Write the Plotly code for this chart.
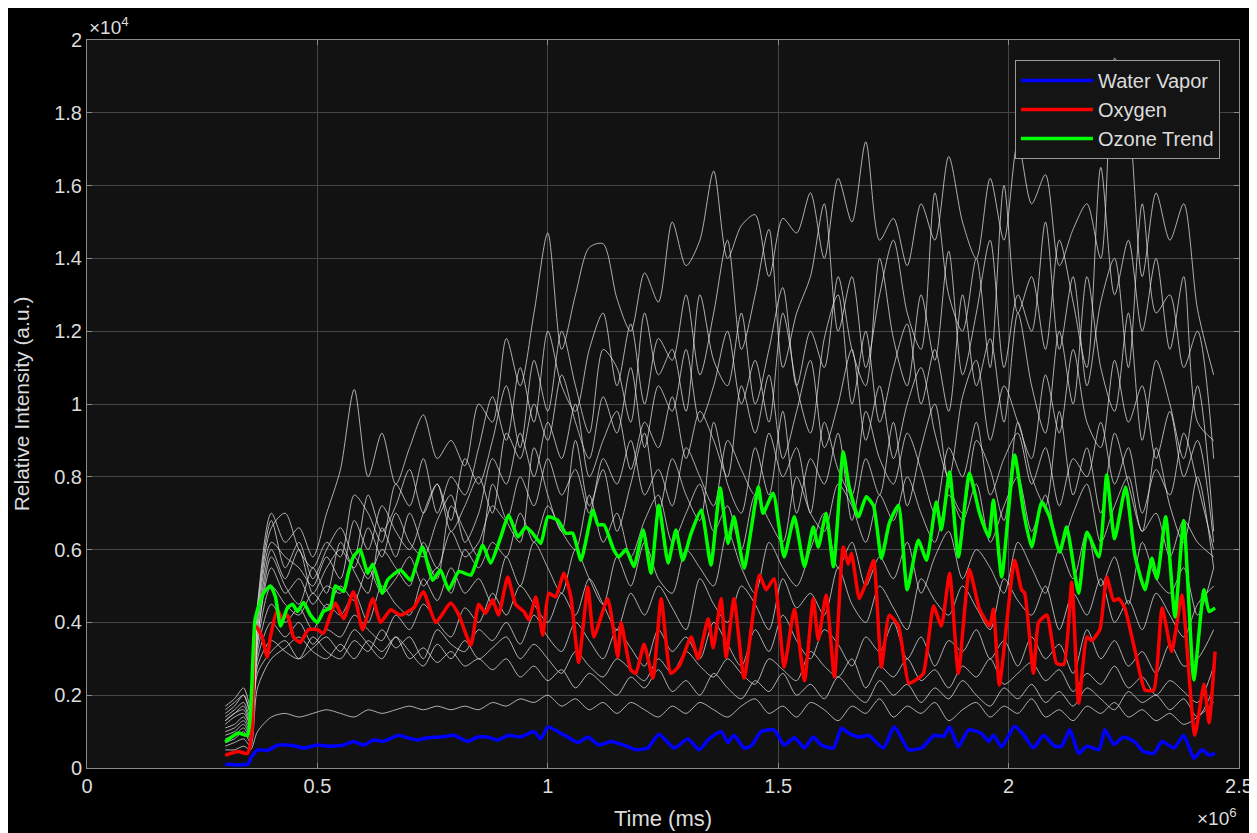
import plotly.graph_objects as go

X_SCALE = 1e6   # time axis shown as x10^6
Y_SCALE = 1e4   # intensity axis shown as x10^4

# ---------------- colored series (time in 1e6 ms, intensity in 1e4 a.u.) ----------------
VAPOR_T = [0.300,0.348,0.357,0.370,0.391,0.415,0.446,0.470,0.500,0.528,0.557,0.578,0.600,0.622,0.643,0.676,0.696,0.717,0.739,0.767,0.796,0.826,0.848,0.870,0.891,0.915,0.941,0.970,0.985,1.000,1.022,1.043,1.065,1.087,1.111,1.137,1.165,1.191,1.217,1.241,1.274,1.304,1.328,1.350,1.376,1.391,1.404,1.426,1.441,1.463,1.491,1.513,1.535,1.557,1.576,1.593,1.620,1.637,1.654,1.676,1.696,1.728,1.752,1.783,1.811,1.839,1.859,1.872,1.891,1.913,1.941,1.957,1.967,1.985,2.013,2.033,2.054,2.076,2.100,2.115,2.133,2.152,2.170,2.196,2.209,2.228,2.250,2.272,2.293,2.315,2.333,2.359,2.380,2.402,2.420,2.435,2.448]
VAPOR_I = [0.010,0.010,0.030,0.050,0.048,0.063,0.062,0.055,0.063,0.060,0.063,0.073,0.063,0.077,0.073,0.090,0.083,0.077,0.083,0.085,0.090,0.073,0.085,0.085,0.077,0.090,0.085,0.100,0.080,0.113,0.100,0.085,0.070,0.085,0.063,0.073,0.063,0.050,0.055,0.093,0.055,0.080,0.050,0.080,0.100,0.070,0.090,0.055,0.060,0.100,0.105,0.063,0.083,0.055,0.085,0.063,0.055,0.109,0.095,0.085,0.090,0.055,0.113,0.050,0.055,0.090,0.087,0.113,0.058,0.105,0.095,0.073,0.090,0.058,0.115,0.090,0.055,0.090,0.060,0.060,0.105,0.040,0.060,0.050,0.105,0.065,0.085,0.073,0.045,0.040,0.073,0.055,0.090,0.027,0.050,0.035,0.040]

OXY_T = [0.300,0.328,0.348,0.358,0.366,0.380,0.391,0.398,0.413,0.424,0.435,0.448,0.463,0.480,0.500,0.513,0.528,0.539,0.557,0.578,0.598,0.620,0.637,0.659,0.680,0.709,0.730,0.757,0.789,0.807,0.833,0.850,0.865,0.880,0.893,0.913,0.930,0.948,0.959,0.974,0.989,1.002,1.017,1.035,1.050,1.067,1.087,1.100,1.130,1.152,1.159,1.180,1.191,1.209,1.228,1.246,1.267,1.285,1.311,1.326,1.348,1.359,1.376,1.387,1.404,1.426,1.459,1.474,1.491,1.513,1.535,1.557,1.576,1.587,1.604,1.622,1.641,1.652,1.659,1.676,1.691,1.707,1.724,1.741,1.761,1.783,1.796,1.815,1.837,1.854,1.872,1.891,1.915,1.937,1.959,1.967,1.980,2.013,2.028,2.035,2.054,2.065,2.083,2.104,2.120,2.137,2.152,2.170,2.180,2.198,2.213,2.228,2.239,2.252,2.274,2.296,2.315,2.333,2.354,2.376,2.404,2.424,2.435,2.448]
OXY_I = [0.035,0.045,0.040,0.100,0.390,0.360,0.305,0.360,0.435,0.410,0.420,0.360,0.345,0.380,0.380,0.370,0.420,0.453,0.410,0.484,0.380,0.465,0.400,0.435,0.420,0.440,0.484,0.400,0.453,0.420,0.337,0.450,0.425,0.462,0.420,0.525,0.450,0.430,0.407,0.470,0.365,0.480,0.470,0.535,0.470,0.290,0.497,0.360,0.465,0.305,0.400,0.270,0.260,0.340,0.247,0.465,0.260,0.280,0.360,0.300,0.410,0.330,0.465,0.305,0.465,0.247,0.530,0.490,0.520,0.277,0.436,0.240,0.465,0.352,0.475,0.250,0.607,0.560,0.590,0.465,0.510,0.570,0.277,0.420,0.390,0.233,0.240,0.260,0.445,0.390,0.535,0.260,0.545,0.436,0.390,0.436,0.228,0.571,0.490,0.480,0.260,0.400,0.420,0.288,0.285,0.510,0.178,0.360,0.350,0.380,0.525,0.460,0.465,0.440,0.324,0.214,0.214,0.440,0.320,0.475,0.090,0.230,0.124,0.320]

OZONE_T = [0.300,0.328,0.348,0.365,0.383,0.398,0.409,0.420,0.435,0.446,0.457,0.470,0.485,0.500,0.513,0.528,0.539,0.557,0.567,0.578,0.593,0.609,0.620,0.641,0.652,0.680,0.702,0.728,0.750,0.767,0.785,0.807,0.833,0.859,0.876,0.898,0.915,0.935,0.952,0.967,0.985,1.000,1.022,1.039,1.054,1.072,1.098,1.109,1.122,1.143,1.154,1.170,1.187,1.207,1.224,1.241,1.261,1.278,1.293,1.311,1.333,1.354,1.374,1.391,1.404,1.426,1.457,1.467,1.489,1.513,1.535,1.557,1.576,1.587,1.604,1.620,1.641,1.654,1.674,1.691,1.707,1.724,1.741,1.761,1.780,1.804,1.822,1.843,1.854,1.872,1.891,1.915,1.937,1.957,1.967,1.985,2.013,2.033,2.050,2.072,2.089,2.111,2.126,2.152,2.170,2.196,2.213,2.230,2.254,2.274,2.296,2.311,2.322,2.341,2.361,2.380,2.402,2.424,2.435,2.448]
OZONE_I = [0.072,0.096,0.090,0.410,0.480,0.500,0.470,0.390,0.440,0.450,0.430,0.455,0.420,0.400,0.430,0.440,0.500,0.485,0.535,0.580,0.600,0.535,0.560,0.480,0.516,0.544,0.516,0.607,0.516,0.544,0.490,0.540,0.530,0.612,0.563,0.635,0.695,0.635,0.662,0.645,0.617,0.690,0.680,0.645,0.645,0.571,0.709,0.668,0.668,0.600,0.580,0.600,0.553,0.654,0.535,0.722,0.563,0.654,0.571,0.645,0.709,0.558,0.769,0.617,0.690,0.549,0.772,0.700,0.755,0.580,0.690,0.553,0.662,0.607,0.700,0.553,0.869,0.772,0.690,0.745,0.720,0.576,0.672,0.722,0.490,0.626,0.571,0.731,0.654,0.813,0.580,0.810,0.700,0.635,0.736,0.525,0.860,0.700,0.607,0.731,0.690,0.593,0.662,0.480,0.648,0.580,0.805,0.630,0.772,0.585,0.490,0.576,0.520,0.690,0.415,0.680,0.242,0.490,0.430,0.440]

# ---------------- individual (white) traces on a common time grid ----------------
WHITE_T = [0.30,0.32,0.34,0.355,0.37,0.40,0.43,0.46,0.49,0.52,0.55,0.58,0.61,0.64,0.67,0.70,0.73,0.76,0.79,0.82,0.85,0.88,0.91,0.94,0.97,1.00,1.03,1.06,1.09,1.12,1.15,1.18,1.21,1.24,1.27,1.30,1.33,1.36,1.39,1.42,1.45,1.48,1.51,1.54,1.57,1.60,1.63,1.66,1.69,1.72,1.75,1.78,1.81,1.84,1.87,1.90,1.93,1.96,1.99,2.02,2.05,2.08,2.11,2.14,2.17,2.20,2.23,2.26,2.29,2.32,2.35,2.38,2.41,2.445]

W01 = [0.17,0.19,0.22,0.17,0.45, 0.70,0.62,0.66,0.58,0.70, 0.82,1.04,0.80,0.92,0.78, 0.88,0.97,0.85,0.90,0.83, 1.00,0.95,1.18,1.05,1.25, 1.47,1.15,1.30,1.43,1.44, 1.29,1.20,1.36,1.28,1.50, 1.38,1.45,1.64,1.40,1.49, 1.52,1.35,1.51,1.47,1.58, 1.40,1.62,1.50,1.72,1.45, 1.51,1.38,1.55,1.45,1.68, 1.50,1.40,1.62,1.45,1.72, 1.55,1.63,1.38,1.48,1.55, 1.40,1.95,1.80,1.35,1.58, 1.45,1.55,1.26,1.08]
W02 = [0.15,0.17,0.20,0.15,0.42, 0.66,0.70,0.60,0.55,0.62, 0.58,0.75,0.70,0.62,0.78, 0.72,0.85,0.70,0.80,0.75, 0.88,1.02,0.90,1.10,0.95, 1.20,1.05,0.98,1.15,1.25, 1.05,1.22,1.00,1.18,1.12, 1.30,1.08,1.25,1.45,1.15, 1.30,1.48,1.10,1.25,1.35, 1.55,1.20,1.35,1.10,1.30, 1.45,1.25,1.15,1.58,1.30, 1.20,1.40,1.10,1.60,1.25, 1.35,1.15,1.45,1.28,1.10, 1.65,1.30,1.45,1.20,1.40, 1.15,1.35,0.95,0.90]
W03 = [0.14,0.16,0.18,0.14,0.40, 0.62,0.58,0.55,0.50,0.58, 0.52,0.68,0.60,0.72,0.65, 0.60,0.70,0.78,0.65,0.72, 0.80,0.70,0.92,0.85,1.00, 0.90,1.08,0.95,0.85,1.02, 0.92,1.10,0.88,1.05,0.98, 1.15,0.95,1.05,1.20,1.00, 1.12,0.95,1.25,1.05,0.92, 1.18,1.30,1.00,1.20,0.95, 1.10,1.22,1.00,1.15,0.98, 1.30,1.05,1.18,0.95,1.25, 1.05,0.92,1.20,1.00,1.35, 1.10,0.98,1.25,0.90,1.12, 1.00,0.85,1.05,0.65]
W04 = [0.13,0.15,0.17,0.13,0.38, 0.60,0.52,0.60,0.48,0.55, 0.60,0.55,0.66,0.58,0.70, 0.62,0.58,0.68,0.75,0.62, 0.70,0.85,0.78,0.92,0.80, 0.95,0.85,1.00,0.80,0.90, 0.98,0.82,0.95,0.88,1.02, 0.85,0.98,0.90,0.80,1.05, 0.92,1.08,0.85,0.98,1.12, 0.88,1.00,1.15,0.90,1.05, 0.85,1.00,1.10,0.92,0.80, 1.02,1.12,0.90,1.05,0.95, 0.85,1.08,0.92,1.15,0.95, 0.88,1.12,0.95,1.05,0.85, 0.98,0.80,0.90,0.62]
W05 = [0.12,0.14,0.15,0.12,0.36, 0.55,0.48,0.52,0.45,0.50, 0.48,0.58,0.52,0.60,0.55, 0.50,0.62,0.55,0.65,0.58, 0.62,0.72,0.68,0.80,0.72, 0.85,0.75,0.82,0.70,0.85, 0.78,0.90,0.75,0.82,0.72, 0.88,0.80,0.72,0.90,0.82, 0.75,0.92,0.80,0.88,0.70, 0.95,0.82,0.75,0.98,0.85, 0.78,0.92,0.82,0.70,0.88, 0.80,0.95,0.75,0.85,0.92, 0.78,0.88,0.72,0.85,0.80, 0.95,0.78,0.88,0.70,0.82, 0.75,0.92,0.78,0.60]
W06 = [0.11,0.12,0.14,0.11,0.34, 0.50,0.45,0.42,0.48,0.44, 0.50,0.46,0.55,0.48,0.52, 0.58,0.50,0.55,0.48,0.60, 0.55,0.62,0.58,0.70,0.62, 0.72,0.65,0.60,0.75,0.62, 0.70,0.58,0.68,0.75,0.62, 0.70,0.78,0.65,0.72,0.60, 0.75,0.68,0.62,0.80,0.70, 0.65,0.78,0.72,0.62,0.75, 0.68,0.80,0.70,0.62,0.75, 0.68,0.78,0.62,0.72,0.80, 0.65,0.75,0.60,0.70,0.78, 0.62,0.72,0.80,0.65,0.70, 0.58,0.68,0.62,0.58]
W07 = [0.10,0.11,0.13,0.10,0.32, 0.45,0.40,0.44,0.38,0.45, 0.42,0.48,0.40,0.50,0.45, 0.42,0.52,0.46,0.55,0.48, 0.52,0.45,0.58,0.50,0.62, 0.55,0.48,0.60,0.52,0.45, 0.58,0.50,0.62,0.52,0.48, 0.60,0.55,0.50,0.65,0.55, 0.48,0.62,0.55,0.50,0.60, 0.70,0.55,0.62,0.50,0.58, 0.52,0.62,0.48,0.58,0.65, 0.52,0.60,0.55,0.48,0.62, 0.55,0.48,0.60,0.52,0.65, 0.50,0.58,0.45,0.62,0.52, 0.48,0.55,0.42,0.55]
W08 = [0.09,0.10,0.12,0.09,0.30, 0.40,0.36,0.40,0.34,0.38, 0.36,0.42,0.38,0.35,0.42, 0.38,0.45,0.40,0.36,0.44, 0.40,0.48,0.42,0.50,0.45, 0.40,0.48,0.42,0.52,0.45, 0.38,0.48,0.42,0.50,0.44, 0.38,0.52,0.45,0.40,0.50, 0.45,0.38,0.52,0.44,0.48, 0.42,0.55,0.45,0.40,0.50, 0.44,0.38,0.52,0.46,0.42, 0.50,0.44,0.38,0.52,0.46, 0.42,0.50,0.38,0.48,0.42, 0.52,0.40,0.46,0.38,0.48, 0.42,0.36,0.45,0.50]
W09 = [0.08,0.09,0.11,0.08,0.28, 0.35,0.32,0.30,0.36,0.32, 0.30,0.35,0.32,0.38,0.33, 0.36,0.30,0.38,0.34,0.32, 0.38,0.35,0.40,0.34,0.42, 0.36,0.32,0.40,0.35,0.30, 0.38,0.33,0.28,0.38,0.32, 0.36,0.30,0.40,0.34,0.28, 0.38,0.32,0.42,0.35,0.30, 0.38,0.34,0.28,0.36,0.32, 0.40,0.30,0.36,0.28,0.35, 0.32,0.38,0.30,0.35,0.28, 0.36,0.30,0.34,0.26,0.38, 0.30,0.35,0.28,0.32,0.26, 0.34,0.28,0.30,0.38]
W10 = [0.07,0.08,0.10,0.07,0.26, 0.32,0.35,0.30,0.33,0.36, 0.32,0.38,0.34,0.30,0.36, 0.32,0.28,0.34,0.30,0.35, 0.30,0.33,0.36,0.30,0.34, 0.30,0.26,0.32,0.28,0.25, 0.30,0.27,0.24,0.30,0.26, 0.32,0.28,0.25,0.30,0.26, 0.23,0.30,0.27,0.24,0.32, 0.28,0.25,0.30,0.22,0.28, 0.25,0.30,0.24,0.27,0.22, 0.28,0.25,0.30,0.23,0.26, 0.29,0.24,0.27,0.21,0.26, 0.23,0.28,0.22,0.25,0.20, 0.24,0.21,0.18,0.28]
W11 = [0.06,0.07,0.08,0.06,0.22, 0.30,0.33,0.36,0.32,0.30, 0.34,0.30,0.35,0.32,0.36, 0.30,0.33,0.29,0.32,0.28, 0.30,0.27,0.30,0.25,0.28, 0.24,0.27,0.22,0.26,0.23, 0.20,0.25,0.22,0.27,0.21, 0.24,0.20,0.26,0.22,0.19, 0.24,0.21,0.26,0.20,0.23, 0.19,0.25,0.21,0.18,0.24, 0.20,0.23,0.18,0.22,0.19, 0.24,0.20,0.17,0.22,0.19, 0.23,0.18,0.21,0.17,0.22, 0.19,0.16,0.21,0.18,0.20, 0.16,0.19,0.14,0.22]
W12 = [0.05,0.05,0.06,0.05,0.10, 0.14,0.15,0.14,0.15,0.16, 0.15,0.14,0.16,0.15,0.16, 0.17,0.16,0.17,0.16,0.17, 0.16,0.18,0.17,0.19,0.18, 0.20,0.17,0.19,0.16,0.18, 0.15,0.18,0.16,0.14,0.17, 0.15,0.18,0.16,0.14,0.17, 0.19,0.15,0.17,0.14,0.18, 0.16,0.13,0.17,0.15,0.19, 0.14,0.17,0.15,0.18,0.13, 0.16,0.18,0.14,0.17,0.15, 0.19,0.14,0.16,0.13,0.17, 0.15,0.18,0.14,0.16,0.13, 0.15,0.12,0.14,0.18]
W13 = [0.13,0.15,0.16,0.12,0.35, 0.58,0.50,0.45,0.55,0.48, 0.62,0.54,0.48,0.66,0.58, 0.70,0.60,0.52,0.72,0.65, 0.58,0.78,0.68,0.62,0.88, 0.75,0.65,0.90,0.72,0.82, 0.65,0.78,0.92,0.70,0.85, 0.75,0.68,0.95,0.78,0.70, 0.88,0.75,0.98,0.70,0.85, 0.78,0.92,0.68,0.85,0.75, 0.95,0.72,0.88,1.00,0.78, 0.70,0.90,0.82,0.68,0.95, 0.80,0.72,0.98,0.75,0.88, 0.70,0.92,0.78,0.65,0.88, 0.72,0.62,0.80,0.55]
W14 = [0.16,0.18,0.20,0.16,0.44, 0.68,0.55,0.62,0.52,0.60, 0.66,0.58,0.75,0.65,0.72, 0.82,0.70,0.78,0.68,0.85, 0.78,0.90,1.05,0.88,1.12, 0.98,1.20,1.05,0.92,1.15, 1.10,0.95,1.25,1.08,1.15, 0.98,1.30,1.12,1.05,1.25, 1.00,1.15,1.32,1.05,1.20, 1.10,1.35,1.15,1.05,1.40, 1.18,1.05,1.30,1.12,1.42, 1.08,1.25,1.45,1.10,1.30, 1.20,1.50,1.15,1.35,1.05, 1.28,1.40,1.10,1.55,1.25, 1.30,1.10,1.20,0.85]
WHITE_SERIES = [W01, W02, W03, W04, W05, W06, W07, W08, W09, W10, W11, W12, W13, W14]

X_TICKS = [0, 0.5, 1, 1.5, 2, 2.5]
X_TICK_TEXT = ["0", "0.5", "1", "1.5", "2", "2.5"]
Y_TICKS = [0, 0.2, 0.4, 0.6, 0.8, 1.0, 1.2, 1.4, 1.6, 1.8, 2.0]
Y_TICK_TEXT = ["0", "0.2", "0.4", "0.6", "0.8", "1", "1.2", "1.4", "1.6", "1.8", "2"]

FONT = "Arial, 'Liberation Sans', Helvetica, sans-serif"
TXT = "#dcdcdc"
AX = "#8c8c8c"
GRID = "#444444"


def sx(v):
    return [t * X_SCALE for t in v]


def sy(v):
    return [t * Y_SCALE for t in v]


fig = go.Figure()

for w in WHITE_SERIES:
    n = min(len(WHITE_T), len(w))
    fig.add_trace(go.Scatter(x=sx(WHITE_T[:n]), y=sy(w[:n]), mode="lines",
                             line=dict(color="rgba(225,225,225,0.75)", width=1,
                                       shape="spline", smoothing=0.8),
                             showlegend=False, hoverinfo="skip"))

for name, t, v, col in [("Water Vapor", VAPOR_T, VAPOR_I, "#0000ff"),
                        ("Oxygen", OXY_T, OXY_I, "#ff0000"),
                        ("Ozone Trend", OZONE_T, OZONE_I, "#00ff00")]:
    n = min(len(t), len(v))
    fig.add_trace(go.Scatter(x=sx(t[:n]), y=sy(v[:n]), mode="lines", name=name,
                             line=dict(color=col, width=3.5, shape="spline", smoothing=0.5)))

axis_common = dict(
    showline=True, linecolor=AX, linewidth=1, mirror="ticks",
    ticks="inside", ticklen=5, tickcolor=AX,
    showgrid=True, gridcolor=GRID, gridwidth=1, zeroline=False,
    tickfont=dict(family=FONT, size=20, color=TXT),
    automargin=False,
)

# the page body adds an 8 px offset, so the figure is 8 px smaller than the window
fig.update_layout(
    template="none",
    width=1249, height=825,
    paper_bgcolor="#000000", plot_bgcolor="#121212",
    margin=dict(l=79, r=18, t=32, b=65),
    font=dict(family=FONT, color=TXT),
    xaxis=dict(range=[0, 2.5 * X_SCALE], tickvals=sx(X_TICKS), ticktext=X_TICK_TEXT,
               title=dict(text="Time (ms)", font=dict(family=FONT, size=22, color=TXT), standoff=14),
               **axis_common),
    yaxis=dict(range=[0, 2.0 * Y_SCALE], tickvals=sy(Y_TICKS), ticktext=Y_TICK_TEXT,
               title=dict(text="Relative Intensity (a.u.)", font=dict(family=FONT, size=21, color=TXT), standoff=18),
               **axis_common),
    legend=dict(x=0.9835, y=0.9725, xanchor="right", yanchor="top",
                bgcolor="#141414", bordercolor="#9a9a9a", borderwidth=1,
                font=dict(family=FONT, size=20, color=TXT), itemwidth=72,
                tracegroupgap=0),
    annotations=[
        dict(text="×10<sup>4</sup>", xref="paper", yref="paper", x=0, y=1.0,
             xanchor="left", yanchor="bottom", showarrow=False,
             font=dict(family=FONT, size=19, color=TXT)),
        dict(text="×10<sup>6</sup>", xref="paper", yref="paper", x=1.0, y=-0.048,
             xanchor="right", yanchor="top", showarrow=False,
             font=dict(family=FONT, size=19, color=TXT)),
    ],
)

fig.write_html("out.html")
